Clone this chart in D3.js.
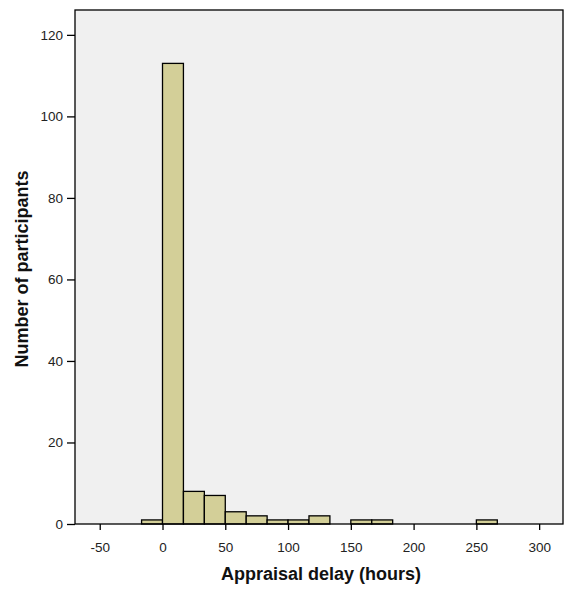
<!DOCTYPE html>
<html>
<head>
<meta charset="utf-8">
<script src="https://cdn.jsdelivr.net/npm/d3@7"></script>
<style>
  html, body { margin: 0; padding: 0; background: #ffffff; }
  svg { display: block; }
</style>
</head>
<body>
<svg id="chart" width="574" height="589"></svg>
<script>
// Histogram bins (hours), width 100/6 hours
const binStarts = [-100/6, 0, 100/6, 200/6, 50, 400/6, 500/6, 100, 700/6, 800/6, 150, 1000/6, 250];
const binWidth = 100 / 6;
const counts = [1, 113, 8, 7, 3, 2, 1, 1, 2, 0, 1, 1, 1];

const xTicks = [-50, 0, 50, 100, 150, 200, 250, 300];
const yTicks = [0, 20, 40, 60, 80, 100, 120];

const xLabel = "Appraisal delay (hours)";
const yLabel = "Number of participants";

const svg = d3.select("#chart");
const plotL = 75, plotR = 563, plotT = 10, plotB = 524;

const x = d3.scaleLinear().domain([-69.7, 319]).range([plotL, plotR]);
const y = d3.scaleLinear().domain([0, 126.1]).range([plotB, plotT]);

// plot background
svg.append("rect")
  .attr("x", plotL).attr("y", plotT)
  .attr("width", plotR - plotL).attr("height", plotB - plotT)
  .attr("fill", "#f0f0f0");

// bars
const bins = binStarts.map((s, i) => ({ x0: s, x1: s + binWidth, n: counts[i] })).filter(d => d.n > 0);
svg.append("g").selectAll("rect").data(bins).join("rect")
  .attr("x", d => x(d.x0))
  .attr("y", d => y(d.n))
  .attr("width", d => x(d.x1) - x(d.x0))
  .attr("height", d => y(0) - y(d.n))
  .attr("fill", "#d3cf98")
  .attr("stroke", "#000")
  .attr("stroke-width", 1.3);

// frame
svg.append("rect")
  .attr("x", plotL).attr("y", plotT)
  .attr("width", plotR - plotL).attr("height", plotB - plotT)
  .attr("fill", "none")
  .attr("stroke", "#000")
  .attr("stroke-width", 1.3);

const font = "Liberation Sans, Arial, sans-serif";
const plain = d => String(d);

// x axis
const xAxis = svg.append("g")
  .attr("transform", `translate(0,${plotB})`)
  .call(d3.axisBottom(x).tickValues(xTicks).tickFormat(plain).tickSize(6).tickPadding(12).tickSizeOuter(0));
xAxis.select(".domain").remove();
xAxis.selectAll("line").attr("stroke", "#000").attr("stroke-width", 1.3);
xAxis.selectAll("text").attr("font-family", font).attr("font-size", 13.5).attr("fill", "#222");

// y axis
const yAxis = svg.append("g")
  .attr("transform", `translate(${plotL},0)`)
  .call(d3.axisLeft(y).tickValues(yTicks).tickFormat(plain).tickSize(8).tickPadding(4).tickSizeOuter(0));
yAxis.select(".domain").remove();
yAxis.selectAll("line").attr("stroke", "#000").attr("stroke-width", 1.3);
yAxis.selectAll("text").attr("font-family", font).attr("font-size", 13.5).attr("fill", "#222");

// axis titles
svg.append("text")
  .attr("x", 321).attr("y", 580)
  .attr("text-anchor", "middle")
  .attr("font-family", font).attr("font-weight", "bold").attr("font-size", 18)
  .attr("fill", "#111")
  .text(xLabel);

svg.append("text")
  .attr("transform", "translate(28,269) rotate(-90)")
  .attr("text-anchor", "middle")
  .attr("font-family", font).attr("font-weight", "bold").attr("font-size", 18)
  .attr("fill", "#111")
  .text(yLabel);
</script>
</body>
</html>
